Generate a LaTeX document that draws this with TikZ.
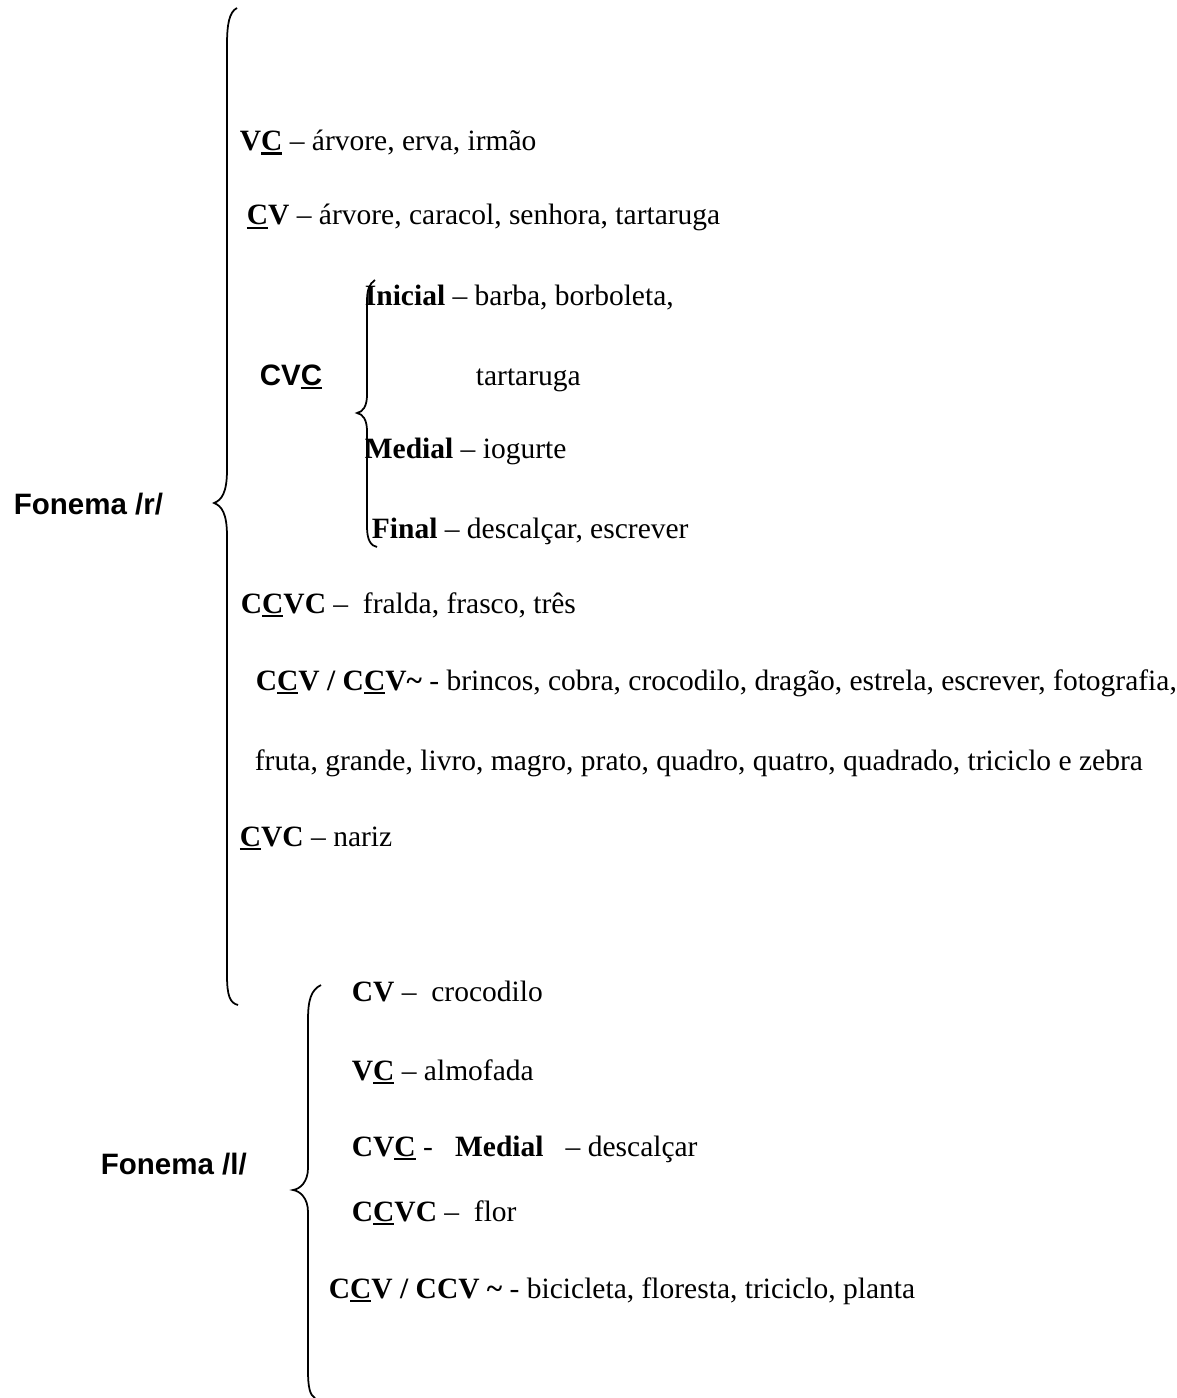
\documentclass[tikz,border=0pt]{standalone}
\usepackage{fontspec}
\setmainfont{Liberation Serif}
\setsansfont{Liberation Sans}
\newcommand{\ulC}{{\setbox0\hbox{C}\rlap{\rule[-1.7pt]{\wd0}{1.1pt}}C}}

\begin{document}
\begin{tikzpicture}[x=0.4pt,y=-0.4pt,line width=0.7pt,
    every node/.style={font=\fontsize{11.8}{14}\selectfont,inner sep=0pt,anchor=base west},
    head/.style={font=\fontsize{11.8}{14}\selectfont\sffamily\bfseries}]
  \useasboundingbox (0,0) rectangle (1176,1398);
  % braces
  \draw (237,8) .. controls (229,12) and (227,25) .. (227,45) -- (227,470)
    .. controls (227,492) and (222,500) .. (214,503) .. controls (222,506) and (227,514) .. (227,536)
    -- (227,975) .. controls (227,996) and (230,1003) .. (238,1005);
  \draw (375,280) .. controls (369,284) and (367,290) .. (367,302) -- (367,395)
    .. controls (367,406) and (363,412) .. (357,413) .. controls (363,414) and (367,420) .. (367,431)
    -- (367,527) .. controls (367,540) and (371,546) .. (377,547);
  \draw (321,985) .. controls (311,990) and (308,1000) .. (308,1020) -- (308,1168)
    .. controls (308,1182) and (300,1189) .. (293,1190) .. controls (300,1191) and (308,1198) .. (308,1212)
    -- (308,1370) .. controls (308,1388) and (310,1395) .. (315,1398);
  % Fonema /r/
  \node[head] (fr) at (13,514) {Fonema /r/};
  \node (r1) at (239,151) {\textbf{V\ulC} – árvore, erva, irmão};
  \node (r2) at (246,225) {\textbf{\ulC V} – árvore, caracol, senhora, tartaruga};
  \node[head] (cvc) at (259,385) {CV\ulC};
  \node (r3) at (364,305) {\textbf{Inicial} – barba, borboleta,};
  \node (r4) at (475,385) {tartaruga};
  \node (r5) at (364,458) {\textbf{Medial} – iogurte};
  \node (r6) at (371,538) {\textbf{Final} – descalçar, escrever};
  \node (r7) at (240,613) {\textbf{C\ulC VC} –\ \ fralda, frasco, três};
  \node (r8) at (255,690) {\textbf{C\ulC V / C\ulC V\textasciitilde} - brincos, cobra, crocodilo, dragão, estrela, escrever, fotografia,};
  \node (r9) at (254,770) {fruta, grande, livro, magro, prato, quadro, quatro, quadrado, triciclo e zebra};
  \node (r10) at (239,846) {\textbf{\ulC VC} – nariz};
  % Fonema /l/
  \node[head] (fl) at (100,1174) {Fonema /l/};
  \node (l1) at (351,1001) {\textbf{CV} –\ \ crocodilo};
  \node (l2) at (351,1080) {\textbf{V\ulC} – almofada};
  \node (l3) at (351,1156) {\textbf{CV\ulC} -\ \ \ \textbf{Medial}\ \ \ – descalçar};
  \node (l4) at (351,1221) {\textbf{C\ulC VC} –\ \ flor};
  \node (l5) at (328,1298) {\textbf{C\ulC V / CCV \textasciitilde} - bicicleta, floresta, triciclo, planta};
\end{tikzpicture}
\end{document}
